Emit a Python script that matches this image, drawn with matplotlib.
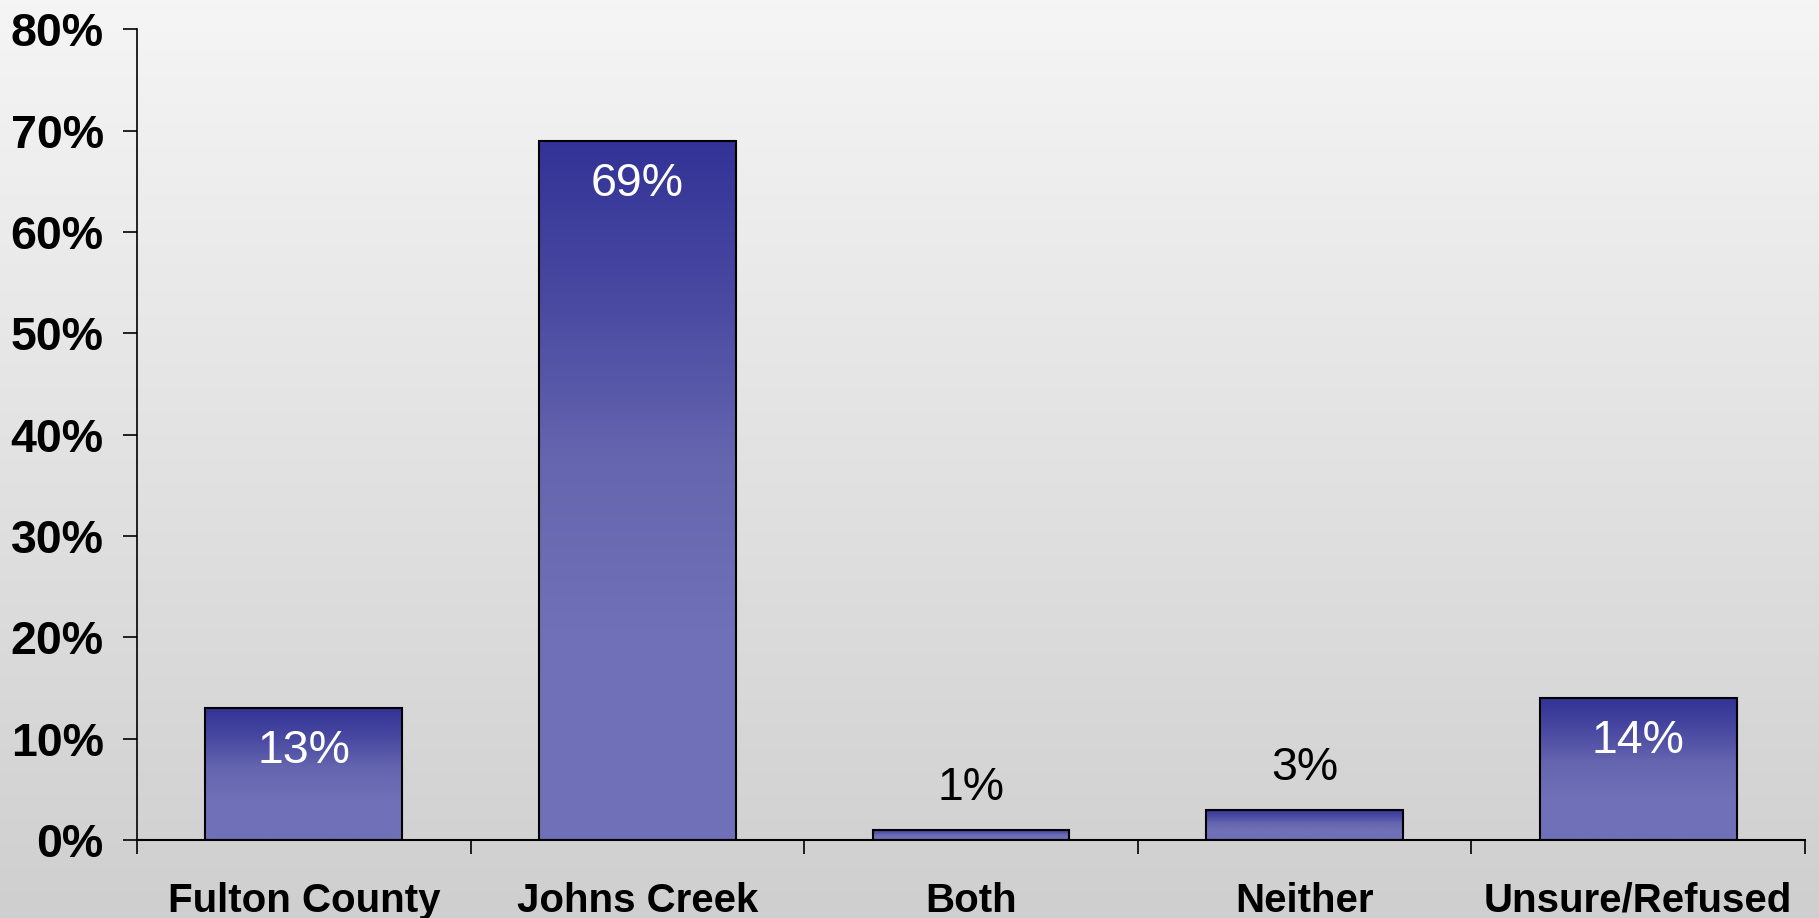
import numpy as np
import matplotlib
matplotlib.use("Agg")
from matplotlib import pyplot as plt
from matplotlib.colors import LinearSegmentedColormap
from matplotlib.patches import Rectangle

# data
categories = ['Fulton County', 'Johns Creek', 'Both', 'Neither', 'Unsure/Refused']
values = [13, 69, 1, 3, 14]
yticks = [0, 10, 20, 30, 40, 50, 60, 70, 80]

plt.rcParams['font.family'] = ['Liberation Sans', 'DejaVu Sans']

fig = plt.figure(figsize=(18.19, 9.18), dpi=100)

# grey background gradient over the whole figure
bg = fig.add_axes([0, 0, 1, 1], zorder=-10)
bg_cmap = LinearSegmentedColormap.from_list('bg', ['#f5f5f5', '#cfcfcf'])
bg.imshow(np.linspace(0, 1, 256).reshape(-1, 1), aspect='auto', cmap=bg_cmap,
          extent=[0, 1, 0, 1], origin='upper')
bg.axis('off')

ax = fig.add_axes([0.0753, 0.085, 0.9170, 0.883])
ax.patch.set_alpha(0)

bar_cmap = LinearSegmentedColormap.from_list('bar', ['#333397', '#4a4aa2', '#6666b0', '#7070b8'])
# vertical profile: dark at top, lighter down to ~70% of height, then flat
prof = np.clip(np.linspace(0, 1, 200) / 0.7, 0, 1).reshape(-1, 1)

width = 0.59
x = np.arange(len(categories))
for xi, v in zip(x, values):
    left = xi - width / 2
    ax.imshow(prof, aspect='auto', cmap=bar_cmap, vmin=0, vmax=1,
              extent=[left, left + width, 0, v], origin='upper', zorder=2)
    ax.add_patch(Rectangle((left, 0), width, v, fill=False, edgecolor='black',
                           linewidth=1.5, zorder=3))
    if v >= 10:
        ax.annotate(f'{v}%', (xi, v), xytext=(0, -31), textcoords='offset points',
                    ha='center', va='center', color='white', fontsize=33.5, zorder=4)
    else:
        ax.annotate(f'{v}%', (xi, v), xytext=(0, 30), textcoords='offset points',
                    ha='center', va='center', color='black', fontsize=33.5, zorder=4)

ax.set_xlim(-0.5, len(categories) - 0.5)
ax.set_ylim(0, 80)

ax.set_yticks(yticks)
ax.set_yticklabels([f'{t}%' for t in yticks], fontsize=33.5, fontweight='bold')
ax.tick_params(axis='y', length=10, width=1.2, pad=14)

# tick marks between categories, labels at bar centres
ax.set_xticks(np.arange(-0.5, len(categories), 1))
ax.set_xticklabels([])
ax.tick_params(axis='x', which='major', length=10, width=1.2)
ax.set_xticks(x, minor=True)
ax.set_xticklabels(categories, minor=True, fontsize=29, fontweight='bold')
ax.tick_params(axis='x', which='minor', length=0, pad=30)

for s in ['top', 'right']:
    ax.spines[s].set_visible(False)
ax.spines['left'].set_linewidth(1.2)
ax.spines['bottom'].set_linewidth(1.5)

fig.savefig('out.png', dpi=100)
